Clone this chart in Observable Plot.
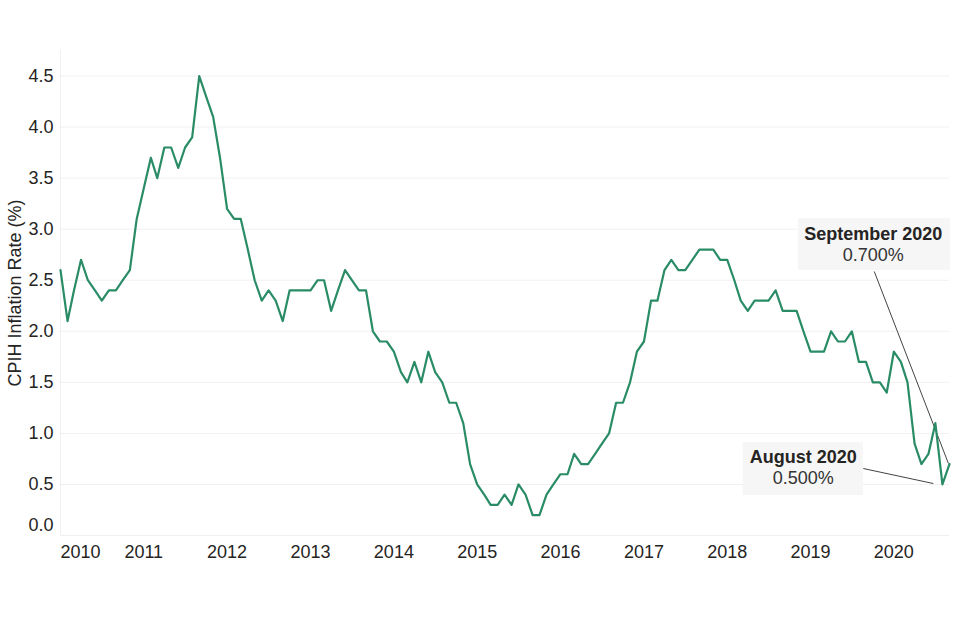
<!DOCTYPE html>
<html>
<head>
<meta charset="utf-8">
<script src="https://cdn.jsdelivr.net/npm/d3@7"></script>
<script src="https://cdn.jsdelivr.net/npm/@observablehq/plot@0.6"></script>
<style>
  body { margin: 0; background: #fff; }
  #chart svg { display: block; }
</style>
</head>
<body>
<div id="chart"></div>
<script>
// ---- Data: CPIH 12-month inflation rate (%), monthly Jan 2010 – Sep 2020 ----
const values2010 = [2.6, 2.1, 2.4, 2.7, 2.5, 2.4, 2.3, 2.4, 2.4, 2.5, 2.6, 3.1];
const values2011 = [3.4, 3.7, 3.5, 3.8, 3.8, 3.6, 3.8, 3.9, 4.5, 4.3, 4.1, 3.7];
const values2012 = [3.2, 3.1, 3.1, 2.8, 2.5, 2.3, 2.4, 2.3, 2.1, 2.4, 2.4, 2.4];
const values2013 = [2.4, 2.5, 2.5, 2.2, 2.4, 2.6, 2.5, 2.4, 2.4, 2.0, 1.9, 1.9];
const values2014 = [1.8, 1.6, 1.5, 1.7, 1.5, 1.8, 1.6, 1.5, 1.3, 1.3, 1.1, 0.7];
const values2015 = [0.5, 0.4, 0.3, 0.3, 0.4, 0.3, 0.5, 0.4, 0.2, 0.2, 0.4, 0.5];
const values2016 = [0.6, 0.6, 0.8, 0.7, 0.7, 0.8, 0.9, 1.0, 1.3, 1.3, 1.5, 1.8];
const values2017 = [1.9, 2.3, 2.3, 2.6, 2.7, 2.6, 2.6, 2.7, 2.8, 2.8, 2.8, 2.7];
const values2018 = [2.7, 2.5, 2.3, 2.2, 2.3, 2.3, 2.3, 2.4, 2.2, 2.2, 2.2, 2.0];
const values2019 = [1.8, 1.8, 1.8, 2.0, 1.9, 1.9, 2.0, 1.7, 1.7, 1.5, 1.5, 1.4];
const values2020 = [1.8, 1.7, 1.5, 0.9, 0.7, 0.8, 1.1, 0.5, 0.7];

const yearTickLabels = [2010, 2011, 2012, 2013, 2014, 2015, 2016, 2017, 2018, 2019, 2020];
const yTicks = [0, 0.5, 1.0, 1.5, 2.0, 2.5, 3.0, 3.5, 4.0, 4.5];
const yAxisTitle = "CPIH Inflation Rate (%)";

// Annotations (label positions in data units: month index from Jan 2010, and %)
const annotTitles = ["September 2020", "August 2020"];
const annotValueText = ["0.700%", "0.500%"];
const annotBoxMonths = [[106.26, 128.14], [98.34, 115.62]];
const annotBoxValues = [[2.595, 3.105], [0.392, 0.911]];
const annotTextMonth = [117.06, 106.98];
const annotLine1Value = [2.953, 0.764];
const annotLine2Value = [2.742, 0.558];
const annotLinkFrom = [[117.2, 2.586], [115.62, 0.656]];
const annotLinkTo = [[127.85, 0.705], [125.7, 0.509]];

// ---- Build tables ----
const start = new Date(Date.UTC(2010, 0, 1));
const allValues = [].concat(values2010, values2011, values2012, values2013, values2014,
  values2015, values2016, values2017, values2018, values2019, values2020);
const data = allValues.map((v, i) => ({date: d3.utcMonth.offset(start, i), value: v}));
const end = data[data.length - 1].date;
const yDomain = [0, 4.75];

function monthToDate(m) {
  const f = Math.floor(m);
  const a = d3.utcMonth.offset(start, f);
  const b = d3.utcMonth.offset(start, f + 1);
  return new Date(+a + (m - f) * (b - a));
}

const annots = annotTitles.map((t, i) => ({
  title: t,
  valueText: annotValueText[i],
  bx1: monthToDate(annotBoxMonths[i][0]), bx2: monthToDate(annotBoxMonths[i][1]),
  by1: annotBoxValues[i][0], by2: annotBoxValues[i][1],
  tx: monthToDate(annotTextMonth[i]),
  ty1: annotLine1Value[i], ty2: annotLine2Value[i],
  lx1: monthToDate(annotLinkFrom[i][0]), ly1: annotLinkFrom[i][1],
  lx2: monthToDate(annotLinkTo[i][0]), ly2: annotLinkTo[i][1]
}));

const titleRow = [{text: yAxisTitle, x: start, y: (yDomain[0] + yDomain[1]) / 2}];

const font = "'Liberation Sans', Arial, Helvetica, sans-serif";
const textColor = "#252423";

const chart = Plot.plot({
  width: 960,
  height: 640,
  marginTop: 50,
  marginBottom: 105,
  marginLeft: 60,
  marginRight: 11,
  style: {fontFamily: font, fontSize: "18px", color: textColor, background: "#fff"},
  x: {type: "utc", domain: [start, end], label: null},
  y: {domain: yDomain, label: null},
  marks: [
    Plot.gridY(yTicks, {stroke: "#000", strokeOpacity: 0.06, strokeWidth: 1}),
    Plot.ruleX([start], {stroke: "#000", strokeOpacity: 0.06}),
    Plot.rect(annots, {x1: "bx1", x2: "bx2", y1: "by1", y2: "by2", fill: "#f6f6f6"}),
    Plot.link(annots, {x1: "lx1", y1: "ly1", x2: "lx2", y2: "ly2", stroke: "#444", strokeWidth: 1}),
    Plot.line(data, {x: "date", y: "value", stroke: "#2a8c66", strokeWidth: 2.2, curve: "linear"}),
    Plot.text(annots, {x: "tx", y: "ty1", text: "title", fontWeight: "bold", fontSize: 18, fill: textColor}),
    Plot.text(annots, {x: "tx", y: "ty2", text: "valueText", fontSize: 18, fill: "#333"}),
    Plot.axisY(yTicks.slice(1), {tickSize: 0, tickPadding: 7, tickFormat: d3.format(".1f"), fontSize: 18, label: null}),
    Plot.axisY([0], {tickSize: 0, tickPadding: 7, tickFormat: d3.format(".1f"), fontSize: 18, dy: -10, label: null}),
    Plot.axisX(yearTickLabels.slice(1).map(y => new Date(Date.UTC(y, 0, 1))),
      {tickSize: 0, tickPadding: 10, tickFormat: d3.utcFormat("%Y"), fontSize: 18, label: null}),
    Plot.axisX([start], {tickSize: 0, tickPadding: 10, tickFormat: () => String(yearTickLabels[0]), textAnchor: "start", fontSize: 18, label: null}),
    Plot.text(titleRow, {x: "x", y: "y", text: "text", textAnchor: "middle", lineAnchor: "middle", rotate: -90, dx: -45, fontSize: 18, fill: textColor})
  ]
});

document.getElementById("chart").append(chart);
</script>
</body>
</html>
